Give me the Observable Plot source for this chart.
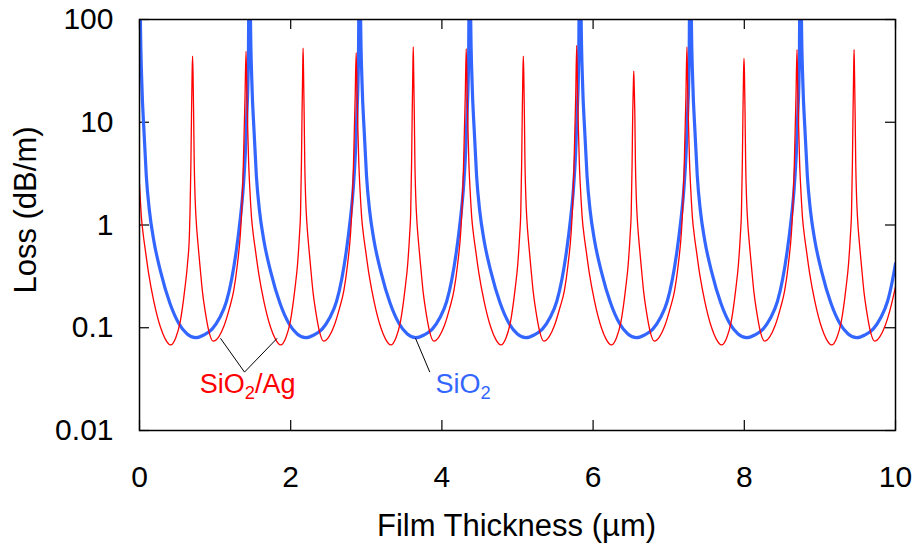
<!DOCTYPE html>
<html>
<head>
<meta charset="utf-8">
<script src="https://cdn.jsdelivr.net/npm/d3@7"></script>
<script src="https://cdn.jsdelivr.net/npm/@observablehq/plot@0.6"></script>
<style>
  html, body { margin: 0; padding: 0; background: #fff; }
</style>
</head>
<body>
<script>
// ---------- data ----------
const xTicks = [0, 2, 4, 6, 8, 10];
const yTicks = [0.01, 0.1, 1, 10, 100];

// SiO2 (blue)
const blueX = [
  0, 0.012, 0.03, 0.06, 0.09, 0.13, 0.19, 0.28, 0.40, 0.52, 0.63, 0.74, 0.85, 0.96, 1.06, 1.15, 1.22, 1.28, 1.33, 1.37, 1.40, 1.42, 1.44,
  1.456, 1.468, 1.486, 1.516, 1.546, 1.586, 1.646, 1.736, 1.856, 1.976, 2.086, 2.196, 2.306, 2.416, 2.516, 2.606, 2.676, 2.736, 2.786, 2.826, 2.856, 2.876, 2.896,
  2.913, 2.925, 2.943, 2.973, 3.003, 3.043, 3.103, 3.193, 3.313, 3.433, 3.543, 3.653, 3.763, 3.873, 3.973, 4.063, 4.133, 4.193, 4.243, 4.283, 4.313, 4.333, 4.353,
  4.369, 4.381, 4.399, 4.429, 4.459, 4.499, 4.559, 4.649, 4.769, 4.889, 4.999, 5.109, 5.219, 5.329, 5.429, 5.519, 5.589, 5.649, 5.699, 5.739, 5.769, 5.789, 5.809,
  5.830, 5.842, 5.860, 5.890, 5.920, 5.960, 6.020, 6.110, 6.230, 6.350, 6.460, 6.570, 6.680, 6.790, 6.890, 6.980, 7.050, 7.110, 7.160, 7.200, 7.230, 7.250, 7.270,
  7.288, 7.300, 7.318, 7.348, 7.378, 7.418, 7.478, 7.568, 7.688, 7.808, 7.918, 8.028, 8.138, 8.248, 8.348, 8.438, 8.508, 8.568, 8.618, 8.658, 8.688, 8.708, 8.728,
  8.744, 8.756, 8.774, 8.804, 8.834, 8.874, 8.934, 9.024, 9.144, 9.264, 9.374, 9.484, 9.594, 9.704, 9.804, 9.894, 9.964, 10.0
];
const blueY = [
  3000, 100, 25, 8, 3, 1.4, 0.7, 0.35, 0.175, 0.11, 0.087, 0.080, 0.085, 0.097, 0.125, 0.18, 0.30, 0.56, 1.1, 2.2, 5, 12, 40,
  3000, 100, 25, 8, 3, 1.4, 0.7, 0.35, 0.175, 0.11, 0.087, 0.080, 0.085, 0.097, 0.125, 0.18, 0.30, 0.56, 1.1, 2.2, 5, 12, 40,
  3000, 100, 25, 8, 3, 1.4, 0.7, 0.35, 0.175, 0.11, 0.087, 0.080, 0.085, 0.097, 0.125, 0.18, 0.30, 0.56, 1.1, 2.2, 5, 12, 40,
  3000, 100, 25, 8, 3, 1.4, 0.7, 0.35, 0.175, 0.11, 0.087, 0.080, 0.085, 0.097, 0.125, 0.18, 0.30, 0.56, 1.1, 2.2, 5, 12, 40,
  3000, 100, 25, 8, 3, 1.4, 0.7, 0.35, 0.175, 0.11, 0.087, 0.080, 0.085, 0.097, 0.125, 0.18, 0.30, 0.56, 1.1, 2.2, 5, 12, 40,
  3000, 100, 25, 8, 3, 1.4, 0.7, 0.35, 0.175, 0.11, 0.087, 0.080, 0.085, 0.097, 0.125, 0.18, 0.30, 0.56, 1.1, 2.2, 5, 12, 40,
  3000, 100, 25, 8, 3, 1.4, 0.7, 0.35, 0.175, 0.11, 0.087, 0.080, 0.085, 0.097, 0.125, 0.18, 0.30, 0.42
];

// SiO2/Ag (red)
const redX = [
  0, 0.012, 0.025, 0.05, 0.08, 0.12, 0.19, 0.28, 0.34, 0.41, 0.48, 0.54, 0.60, 0.635, 0.66, 0.668, 0.680, 0.688, 0.696, 0.702, 0.708, 0.716, 0.724, 0.736, 0.750, 0.774, 0.80, 0.834, 0.868, 0.914, 0.974, 1.05, 1.12, 1.19,
  1.246, 1.296, 1.336, 1.356, 1.371, 1.384, 1.396, 1.409, 1.420, 1.431, 1.444,
  1.456, 1.468, 1.481, 1.506, 1.536, 1.576, 1.646, 1.736, 1.796, 1.866, 1.936, 1.996, 2.056, 2.091, 2.116, 2.130, 2.142, 2.150, 2.158, 2.164, 2.170, 2.178, 2.186, 2.198, 2.212, 2.236, 2.262, 2.296, 2.330, 2.376, 2.436, 2.506, 2.576, 2.646,
  2.703, 2.753, 2.793, 2.813, 2.828, 2.841, 2.853, 2.866, 2.877, 2.888, 2.901,
  2.913, 2.925, 2.938, 2.963, 2.993, 3.033, 3.103, 3.193, 3.253, 3.323, 3.393, 3.453, 3.513, 3.548, 3.573, 3.587, 3.599, 3.607, 3.615, 3.621, 3.627, 3.635, 3.643, 3.655, 3.669, 3.693, 3.719, 3.753, 3.787, 3.833, 3.893, 3.963, 4.033, 4.103,
  4.159, 4.209, 4.249, 4.269, 4.284, 4.297, 4.309, 4.322, 4.333, 4.344, 4.357,
  4.369, 4.381, 4.394, 4.419, 4.449, 4.489, 4.559, 4.649, 4.709, 4.779, 4.849, 4.909, 4.969, 5.004, 5.029, 5.043, 5.055, 5.063, 5.071, 5.077, 5.083, 5.091, 5.099, 5.111, 5.125, 5.149, 5.175, 5.209, 5.243, 5.289, 5.349, 5.419, 5.489, 5.559,
  5.620, 5.670, 5.710, 5.730, 5.745, 5.758, 5.770, 5.783, 5.794, 5.805, 5.818,
  5.830, 5.842, 5.855, 5.880, 5.910, 5.950, 6.020, 6.110, 6.170, 6.240, 6.310, 6.370, 6.430, 6.465, 6.490, 6.504, 6.516, 6.524, 6.532, 6.538, 6.544, 6.552, 6.560, 6.572, 6.586, 6.610, 6.636, 6.670, 6.704, 6.750, 6.810, 6.880, 6.950, 7.020,
  7.078, 7.128, 7.168, 7.188, 7.203, 7.216, 7.228, 7.241, 7.252, 7.263, 7.276,
  7.288, 7.300, 7.313, 7.338, 7.368, 7.408, 7.478, 7.568, 7.628, 7.698, 7.768, 7.828, 7.888, 7.923, 7.948, 7.962, 7.974, 7.982, 7.990, 7.996, 8.002, 8.010, 8.018, 8.030, 8.044, 8.068, 8.094, 8.128, 8.162, 8.208, 8.268, 8.338, 8.408, 8.478,
  8.534, 8.584, 8.624, 8.644, 8.659, 8.672, 8.684, 8.697, 8.708, 8.719, 8.732,
  8.744, 8.756, 8.769, 8.794, 8.824, 8.864, 8.934, 9.024, 9.084, 9.154, 9.224, 9.284, 9.344, 9.379, 9.404, 9.418, 9.430, 9.438, 9.446, 9.452, 9.458, 9.466, 9.474, 9.486, 9.500, 9.524, 9.550, 9.584, 9.618, 9.664, 9.724, 9.794, 9.864, 9.934, 10.0
];
const redY = [
  2.5, 1.7, 1.2, 0.8, 0.55, 0.34, 0.18, 0.10, 0.078, 0.068, 0.08, 0.116, 0.24, 0.42, 0.8, 1.3, 4, 12, 30, 44, 30, 12, 4, 1.8, 1.1, 0.65, 0.40, 0.22, 0.146, 0.095, 0.074, 0.082, 0.105, 0.155,
  0.23, 0.42, 0.85, 1.6, 3.3, 8, 18, 49, 20, 9, 4,
  2.5, 1.7, 1.2, 0.8, 0.55, 0.34, 0.18, 0.10, 0.078, 0.068, 0.08, 0.116, 0.24, 0.42, 0.8, 1.3, 4, 12, 30, 52.5, 30, 12, 4, 1.8, 1.1, 0.65, 0.40, 0.22, 0.146, 0.095, 0.074, 0.082, 0.105, 0.155,
  0.23, 0.42, 0.85, 1.6, 3.3, 8, 18, 47.5, 20, 9, 4,
  2.5, 1.7, 1.2, 0.8, 0.55, 0.34, 0.18, 0.10, 0.078, 0.068, 0.08, 0.116, 0.24, 0.42, 0.8, 1.3, 4, 12, 30, 54, 30, 12, 4, 1.8, 1.1, 0.65, 0.40, 0.22, 0.146, 0.095, 0.074, 0.082, 0.105, 0.155,
  0.23, 0.42, 0.85, 1.6, 3.3, 8, 18, 52, 20, 9, 4,
  2.5, 1.7, 1.2, 0.8, 0.55, 0.34, 0.18, 0.10, 0.078, 0.068, 0.08, 0.116, 0.24, 0.42, 0.8, 1.3, 4, 12, 30, 44, 30, 12, 4, 1.8, 1.1, 0.65, 0.40, 0.22, 0.146, 0.095, 0.074, 0.082, 0.105, 0.155,
  0.23, 0.42, 0.85, 1.6, 3.3, 8, 18, 56, 20, 9, 4,
  2.5, 1.7, 1.2, 0.8, 0.55, 0.34, 0.18, 0.10, 0.078, 0.068, 0.08, 0.116, 0.24, 0.42, 0.8, 1.3, 4, 12, 22, 31.5, 22, 12, 4, 1.8, 1.1, 0.65, 0.40, 0.22, 0.146, 0.095, 0.074, 0.082, 0.105, 0.155,
  0.23, 0.42, 0.85, 1.6, 3.3, 8, 18, 54, 20, 9, 4,
  2.5, 1.7, 1.2, 0.8, 0.55, 0.34, 0.18, 0.10, 0.078, 0.068, 0.08, 0.116, 0.24, 0.42, 0.8, 1.3, 4, 12, 30, 42, 30, 12, 4, 1.8, 1.1, 0.65, 0.40, 0.22, 0.146, 0.095, 0.074, 0.082, 0.105, 0.155,
  0.23, 0.42, 0.85, 1.6, 3.3, 8, 18, 51, 20, 9, 4,
  2.5, 1.7, 1.2, 0.8, 0.55, 0.34, 0.18, 0.10, 0.078, 0.068, 0.08, 0.116, 0.24, 0.42, 0.8, 1.3, 4, 12, 30, 51, 30, 12, 4, 1.8, 1.1, 0.65, 0.40, 0.22, 0.146, 0.095, 0.074, 0.082, 0.105, 0.155, 0.25
];

// annotations
const labelText = ["SiO2/Ag", "SiO2"];
const labelX = [1.43, 4.28];
const labelY = [0.028, 0.028];
const labelColor = ["#ff0000", "#3366ff"];
const leaderX1 = [1.071, 1.821, 3.651];
const leaderY1 = [0.079, 0.079, 0.079];
const leaderX2 = [1.389, 1.389, 3.84];
const leaderY2 = [0.037, 0.037, 0.037];

// ---------- chart ----------
const W = 914, H = 543;
const mL = 139, mR = 19, mT = 19, mB = 113;
const plotW = W - mL - mR, plotH = H - mT - mB;
const tickLen = 10;

const svg = Plot.plot({
  width: W,
  height: H,
  marginLeft: mL,
  marginRight: mR,
  marginTop: mT,
  marginBottom: mB,
  style: {fontFamily: "'Liberation Sans', Arial, sans-serif", fontSize: "30px", color: "#000", background: "#fff"},
  x: {domain: [0, 10]},
  y: {type: "log", domain: [0.01, 100]},
  marks: [
    Plot.axisX(xTicks, {tickSize: 0, tickPadding: 35, tickFormat: d => String(d), fontSize: 30, label: null}),
    Plot.axisY(yTicks, {tickSize: 0, tickPadding: 26, tickFormat: d => String(d), fontSize: 30, label: null}),
    // inward ticks on all four sides
    Plot.tickX(xTicks, {x: d => d, insetTop: plotH - tickLen, stroke: "#000", strokeWidth: 1.2}),
    Plot.tickX(xTicks, {x: d => d, insetBottom: plotH - tickLen, stroke: "#000", strokeWidth: 1.2}),
    Plot.tickY(yTicks, {y: d => d, insetRight: plotW - tickLen, stroke: "#000", strokeWidth: 1.2}),
    Plot.tickY(yTicks, {y: d => d, insetLeft: plotW - tickLen, stroke: "#000", strokeWidth: 1.2}),
    Plot.line({length: blueX.length}, {x: blueX, y: blueY, stroke: "#3366ff", strokeWidth: 3.2, curve: "monotone-x", clip: true}),
    Plot.line({length: redX.length}, {x: redX, y: redY, stroke: "#ff0000", strokeWidth: 1.3, curve: "monotone-x", clip: true}),
    Plot.link({length: leaderX1.length}, {x1: leaderX1, y1: leaderY1, x2: leaderX2, y2: leaderY2, stroke: "#000", strokeWidth: 1}),
    Plot.text({length: labelText.length}, {x: labelX, y: labelY, text: labelText, fill: labelColor, fontSize: 27}),
    Plot.frame({stroke: "#000", strokeWidth: 1.5}),
    Plot.text(["Film Thickness (\u00b5m)"], {frameAnchor: "bottom", textAnchor: "middle", lineAnchor: "middle", dy: 96, dx: -1, fontSize: 31, fill: "#000"}),
    Plot.text(["Loss (dB/m)"], {frameAnchor: "left", textAnchor: "middle", lineAnchor: "middle", rotate: -90, dx: -113, dy: -15, fontSize: 31, fill: "#000"})
  ]
});

// subscripts in chemical formulas
d3.select(svg).selectAll("text").each(function() {
  const t = this.textContent;
  if (t === "SiO2/Ag" || t === "SiO2") {
    const sel = d3.select(this);
    sel.text(null);
    sel.append("tspan").text("SiO");
    sel.append("tspan").attr("dy", 6).attr("font-size", "0.68em").text("2");
    if (t === "SiO2/Ag") sel.append("tspan").attr("dy", -6).text("/Ag");
  }
});

document.body.appendChild(svg);
</script>
</body>
</html>
